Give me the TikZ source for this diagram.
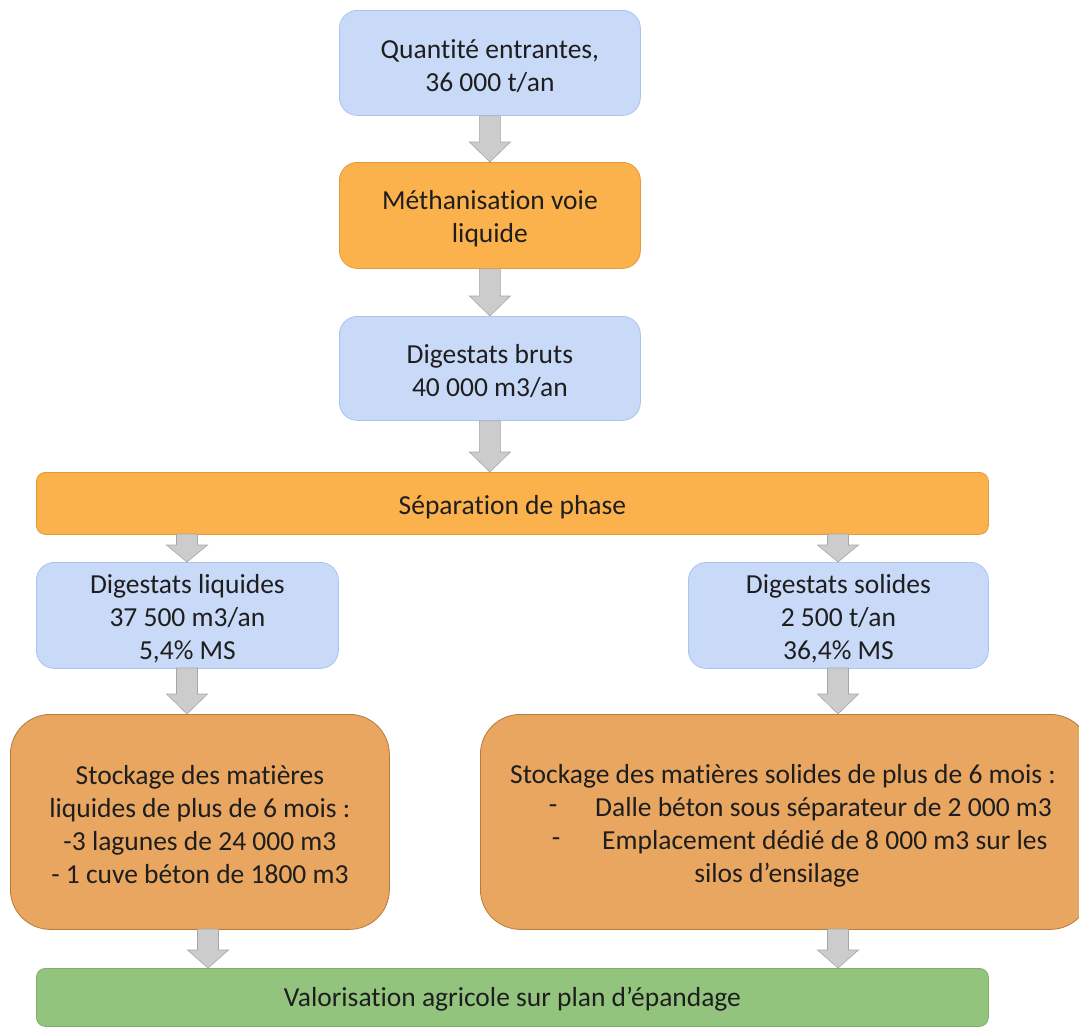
\documentclass[tikz,border=0pt]{standalone}
\usepackage{fontspec}
\setmainfont{Carlito}[Ligatures=NoCommon]
\usetikzlibrary{calc}
\definecolor{bluefill}{HTML}{C9DAF8}
\definecolor{blueline}{HTML}{A9C4F0}
\definecolor{orfill}{HTML}{FBB24C}
\definecolor{orline}{HTML}{E69A35}
\definecolor{stfill}{HTML}{E8A660}
\definecolor{stline}{HTML}{B67A3A}
\definecolor{grfill}{HTML}{93C47D}
\definecolor{grline}{HTML}{7EB069}
\definecolor{arfill}{HTML}{CCCCCC}
\definecolor{arline}{HTML}{A6A6A6}
\definecolor{txt}{HTML}{1E1E1E}
\tikzset{
  box/.style={draw, line width=0.8pt, rounded corners=#1, inner sep=0pt, anchor=north west},
  bluebox/.style={box=18pt, fill=bluefill, draw=blueline},
  orbox/.style={box=18pt, fill=orfill, draw=orline},
  sepbox/.style={box=9pt, fill=orfill, draw=orline},
  stbox/.style={box=40pt, fill=stfill, draw=stline},
  grbox/.style={box=9pt, fill=grfill, draw=grline},
  lbl/.style={text=txt, font=\fontsize{27.5}{33}\selectfont, inner sep=0pt, align=center},
  barrow/.style={fill=arfill, draw=arline, line width=0.6pt, line join=miter}
}
\newcommand\blockarrow[3]{% from, to, head length
  \path[barrow] let \p1=(#1), \p2=(#2) in
    (\x1-10.5pt,\y1) -- (\x1+10.5pt,\y1) -- (\x1+10.5pt,\y2+#3pt) -- (\x1+20.5pt,\y2+#3pt)
    -- (\x1,\y2) -- (\x1-20.5pt,\y2+#3pt) -- (\x1-10.5pt,\y2+#3pt) -- cycle;}
\begin{document}
\begin{tikzpicture}[x=1pt,y=-1pt]
\useasboundingbox (0,0) rectangle (1079,1026);
% boxes
\node[bluebox, minimum width=301pt, minimum height=105pt] (q) at (339,10) {};
\node[orbox, minimum width=301pt, minimum height=106pt] (m) at (339,162) {};
\node[bluebox, minimum width=301pt, minimum height=104pt] (d) at (339,316) {};
\node[sepbox, minimum width=952pt, minimum height=62pt] (s) at (36,472) {};
\node[bluebox, minimum width=302pt, minimum height=106pt] (dl) at (36,562) {};
\node[bluebox, minimum width=300pt, minimum height=106pt] (ds) at (688,562) {};
\node[stbox, minimum width=379pt, minimum height=215pt] (sl) at (10,714) {};
\node[stbox, minimum width=610pt, minimum height=215pt] (ss) at (480,714) {};
\node[grbox, minimum width=952pt, minimum height=58pt] (v) at (36,968) {};
% texts
\node[lbl] (qt) at ($(q.center)+(0,3)$) {Quantité entrantes,\\36 000 t/an};
\node[lbl] (mt) at ($(m.center)+(0,3)$) {Méthanisation voie\\liquide};
\node[lbl] (dt) at ($(d.center)+(0,3)$) {Digestats bruts\\40 000 m3/an};
\node[lbl] (st) at ($(s.center)+(0,4)$) {Séparation de phase};
\node[lbl] (dlt) at ($(dl.center)+(0,3)$) {Digestats liquides\\37 500 m3/an\\5,4\% MS};
\node[lbl] (dst) at ($(ds.center)+(0,3)$) {Digestats solides\\2 500 t/an\\36,4\% MS};
\node[lbl] (slt) at ($(sl.center)+(0,3)$)
  {Stockage des matières\\liquides de plus de 6 mois :\\-3 lagunes de 24 000 m3\\- 1 cuve béton de 1800 m3};
\node[lbl] (vt) at ($(v.center)+(0,2)$) {Valorisation agricole sur plan d’épandage};
% text of the solid storage box
\node[lbl] (t1) at (783,776) {Stockage des matières solides de plus de 6 mois :};
\node[lbl] (b1) at (553,809) {-};
\node[lbl, anchor=west] (t2) at (595,809) {Dalle béton sous séparateur de 2 000 m3};
\node[lbl] (b2) at (556,842) {-};
\node[lbl, anchor=west] (t3) at (602,842) {Emplacement dédié de 8 000 m3 sur les};
\node[lbl] (t4) at (777,875) {silos d’ensilage};
% connectors
\coordinate (sl1) at (187,534);
\coordinate (sr1) at (838,534);
\coordinate (dl2) at (187,562);
\coordinate (ds2) at (838,562);
\coordinate (sl3) at (187,714);
\coordinate (ss3) at (838,714);
\coordinate (dl4) at (187,668);
\coordinate (ds4) at (838,668);
\coordinate (sl5) at (208,929);
\coordinate (ss5) at (838,929);
\coordinate (v5l) at (208,968);
\coordinate (v5r) at (838,968);
\blockarrow{q.south}{m.north}{20}
\blockarrow{m.south}{d.north}{20}
\blockarrow{d.south}{s.north}{20}
\blockarrow{sl1}{dl2}{17}
\blockarrow{sr1}{ds2}{17}
\blockarrow{dl4}{sl3}{20}
\blockarrow{ds4}{ss3}{20}
\blockarrow{sl5}{v5l}{18}
\blockarrow{ss5}{v5r}{18}
\end{tikzpicture}
\end{document}
